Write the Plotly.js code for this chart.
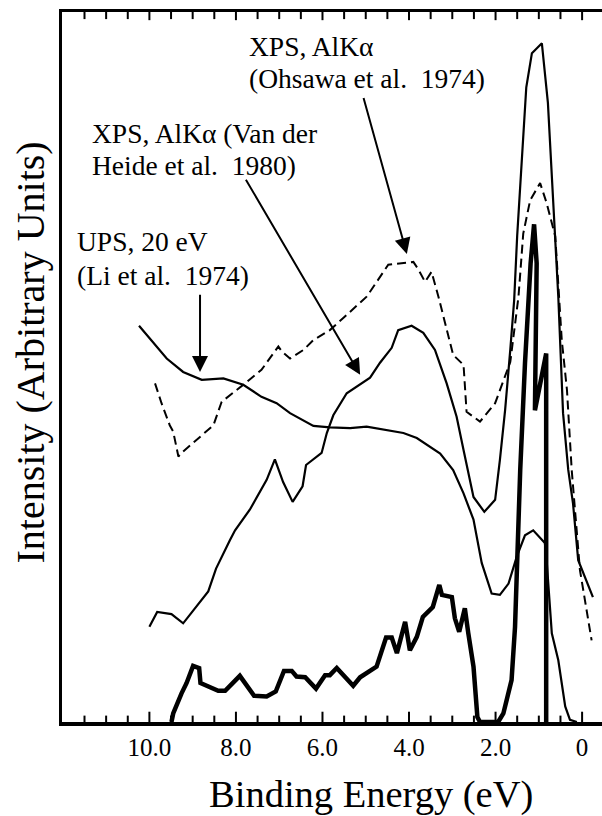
<!DOCTYPE html>
<html>
<head>
<meta charset="utf-8">
<script src="https://cdn.plot.ly/plotly-3.0.1.min.js"></script>
<style>
  html, body { margin: 0; padding: 0; background: #fff; }
  #chart { width: 602px; height: 816px; }
</style>
</head>
<body>
<div id="chart"></div>
<script>
// Binding energy (eV) and intensity (arbitrary units, 0-100)

// UPS, 20 eV (Li et al. 1974) - thin solid
const liE = [10.24, 9.60, 9.22, 8.79, 8.29, 7.83, 7.41, 7.06, 6.75, 6.21, 5.83, 5.36, 4.98, 4.13, 3.82, 3.28, 2.98, 2.74, 2.51, 2.32, 2.09, 1.90, 1.70, 1.51, 1.32, 1.13, 0.86, 0.82, 0.70, 0.55, 0.39, 0.28, 0.12];
const liI = [55.8, 51.2, 49.3, 48.2, 48.4, 47.5, 45.8, 44.9, 43.5, 41.7, 41.5, 41.4, 41.6, 40.7, 40.0, 37.8, 35.5, 32.2, 28.5, 22.4, 18.1, 17.9, 19.5, 23.3, 26.3, 27.0, 25.2, 22.8, 12.5, 8.7, 2.2, 0.3, 0.0];

// XPS, AlKa (Van der Heide et al. 1980) - thin solid
const vdhE = [10.00, 9.82, 9.49, 9.22, 8.64, 8.46, 8.14, 8.02, 7.68, 7.29, 7.10, 6.91, 6.69, 6.46, 6.38, 6.02, 5.90, 5.75, 5.44, 5.09, 4.90, 4.67, 4.40, 4.25, 3.94, 3.67, 3.40, 3.13, 2.90, 2.74, 2.51, 2.26, 2.01, 1.90, 1.78, 1.66, 1.57, 1.50, 1.39, 1.29, 1.16, 0.93, 0.79, 0.62, 0.55, 0.44, 0.32, 0.21, 0.09, -0.25];
const vdhI = [13.4, 15.5, 15.2, 13.9, 18.4, 21.6, 25.6, 27.0, 29.9, 34.1, 37.0, 33.8, 31.0, 33.2, 36.2, 37.9, 40.7, 43.2, 46.3, 47.7, 48.5, 50.6, 52.7, 55.2, 55.8, 54.8, 52.4, 47.7, 43.0, 38.3, 31.7, 29.6, 31.3, 36.9, 43.9, 52.4, 59.4, 68.5, 80.1, 89.4, 94.2, 95.6, 87.2, 68.3, 59.9, 43.5, 35.5, 30.8, 22.8, 17.6];

// XPS, AlKa (Ohsawa et al. 1974) - dashed
const ohsE = [9.87, 9.72, 9.53, 9.45, 9.33, 9.22, 8.52, 8.33, 7.79, 7.41, 7.02, 6.94, 6.75, 6.44, 6.21, 5.83, 5.52, 4.98, 4.48, 3.90, 3.78, 3.63, 3.48, 3.32, 2.98, 2.74, 2.67, 2.36, 2.01, 1.66, 1.47, 1.36, 1.20, 0.97, 0.82, 0.62, 0.47, 0.35, 0.24, 0.16, 0.05, -0.22];
const ohsI = [47.7, 44.9, 41.8, 40.9, 37.4, 38.1, 41.8, 45.1, 47.7, 49.6, 52.9, 52.2, 51.2, 52.4, 53.8, 55.2, 56.9, 59.9, 64.4, 64.8, 63.7, 62.0, 63.4, 59.9, 51.7, 50.3, 43.7, 42.3, 44.9, 50.7, 59.9, 68.8, 73.5, 75.9, 73.1, 68.4, 53.8, 46.8, 35.5, 29.9, 21.4, 11.5];

// Thick solid spectrum (bottom)
const thkE = [9.49, 9.45, 9.26, 9.14, 8.99, 8.85, 8.82, 8.60, 8.41, 8.25, 7.91, 7.58, 7.29, 7.08, 6.89, 6.71, 6.60, 6.40, 6.15, 5.94, 5.83, 5.67, 5.29, 5.13, 4.75, 4.53, 4.40, 4.28, 4.09, 3.98, 3.82, 3.68, 3.45, 3.30, 3.24, 3.01, 2.94, 2.84, 2.71, 2.63, 2.51, 2.42, 2.36, 1.94, 1.82, 1.63, 1.55, 1.43, 1.32, 1.19, 1.11, 1.05, 1.09, 0.83, 0.83];
const thkI = [0.0, 1.2, 4.0, 5.5, 7.9, 7.6, 5.5, 4.9, 4.4, 4.4, 6.5, 3.7, 3.6, 4.3, 7.2, 7.2, 6.4, 6.3, 4.7, 6.6, 6.6, 7.6, 5.1, 6.3, 7.8, 11.9, 11.9, 9.7, 14.1, 10.1, 12.0, 14.8, 16.2, 19.3, 17.9, 17.6, 14.6, 12.7, 16.0, 12.5, 7.8, 0.7, 0.0, 0.0, 1.2, 5.9, 13.4, 35.5, 50.5, 64.6, 70.1, 64.6, 43.9, 51.9, 0.0];

// Axis ticks
const majorTicks = [10, 8, 6, 4, 2, 0];
const majorTickText = ['10.0', '8.0', '6.0', '4.0', '2.0', '0'];
const minorTicks = [11.5, 11, 10.5, 9.5, 9, 8.5, 7.5, 7, 6.5, 5.5, 5, 4.5, 3.5, 3, 2.5, 1.5, 1, 0.5];

// Axis titles
const xTitle = 'Binding Energy (eV)';
const yTitle = 'Intensity (Arbitrary Units)';

// Labels: [text, E, I]
const labelLines = [
  ['XPS, AlK\u03b1', 7.75, 95.2],
  ['(Ohsawa et al.\u00a0 1974)', 7.75, 90.6],
  ['XPS, AlK\u03b1 (Van der', 11.38, 82.9],
  ['Heide et al.\u00a0 1980)', 11.38, 78.4],
  ['UPS, 20 eV', 11.72, 67.7],
  ['(Li et al.\u00a0 1974)', 11.72, 62.9]
];
// Arrows: [tipE, tipI, tailE, tailI]
const arrows = [
  [8.83, 49.3, 8.83, 60.4],
  [5.13, 48.9, 7.79, 76.6],
  [4.05, 65.9, 5.06, 88.1]
];

const FONT = 'Liberation Serif, Times New Roman, serif';

// Tick marks drawn on the x scale as a line trace (bottom pointing up, top pointing down)
const Y_MIN = 0, Y_MAX = 100;
const tickX = [], tickY = [];
function addTick(v, lenBottom, lenTop) {
  tickX.push(v, v, null, v, v, null);
  tickY.push(Y_MIN, Y_MIN + lenBottom, null, Y_MAX, Y_MAX - lenTop, null);
}
majorTicks.forEach(v => addTick(v, 1.45, 1.15));
minorTicks.forEach(v => addTick(v, 0.9, 1.0));

const traces = [
  { x: liE, y: liI, mode: 'lines', line: { color: '#000', width: 2.2 }, name: 'UPS 20 eV' },
  { x: vdhE, y: vdhI, mode: 'lines', line: { color: '#000', width: 2.2 }, name: 'XPS Van der Heide' },
  { x: ohsE, y: ohsI, mode: 'lines', line: { color: '#000', width: 2, dash: '9px,5px' }, name: 'XPS Ohsawa' },
  { x: thkE, y: thkI, mode: 'lines', line: { color: '#000', width: 4.5 }, name: 'thick' },
  { x: tickX, y: tickY, mode: 'lines', connectgaps: false, line: { color: '#000', width: 2 }, name: 'ticks', hoverinfo: 'skip' }
];

const annotations = labelLines.map(l => ({
  text: l[0], x: l[1], y: l[2], xref: 'x', yref: 'y',
  xanchor: 'left', yanchor: 'middle', showarrow: false,
  font: { family: FONT, size: 27.5, color: '#000' }
}));
arrows.forEach(a => annotations.push({
  text: '', x: a[0], y: a[1], ax: a[2], ay: a[3], xref: 'x', yref: 'y', axref: 'x', ayref: 'y',
  showarrow: true, arrowhead: 2, arrowsize: 1.6, arrowwidth: 2, arrowcolor: '#000'
}));
// axis titles placed as in the original figure
annotations.push({
  text: xTitle, xref: 'paper', yref: 'paper', x: 0.573, y: -0.102,
  xanchor: 'center', yanchor: 'middle', showarrow: false,
  font: { family: FONT, size: 38.5, color: '#000' }
});
annotations.push({
  text: yTitle, xref: 'paper', yref: 'paper', x: -0.058, y: 0.52,
  xanchor: 'center', yanchor: 'middle', textangle: -90, showarrow: false,
  font: { family: FONT, size: 40, color: '#000' }
});

const layout = {
  width: 602, height: 816,
  margin: { l: 62, r: 0, t: 12, b: 94 },
  paper_bgcolor: '#fff', plot_bgcolor: '#fff',
  showlegend: false,
  font: { family: FONT, color: '#000' },
  xaxis: {
    range: [12.02, -0.46],
    showgrid: false, zeroline: false,
    showline: true, linecolor: '#000', linewidth: 3.5, mirror: true,
    ticks: '', tickvals: majorTicks, ticktext: majorTickText,
    tickfont: { family: FONT, size: 25, color: '#000' }
  },
  yaxis: {
    range: [Y_MIN, Y_MAX],
    showgrid: false, zeroline: false,
    showline: true, linecolor: '#000', linewidth: 3.5, mirror: false,
    ticks: '', showticklabels: false
  },
  annotations: annotations
};

Plotly.newPlot('chart', traces, layout, { staticPlot: true, displayModeBar: false });
</script>
</body>
</html>
